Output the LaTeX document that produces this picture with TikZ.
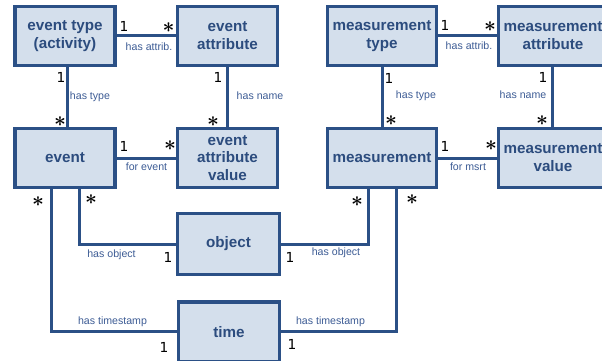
\documentclass[tikz,border=0pt]{standalone}
\usepackage{fontspec}
\setmainfont{Liberation Sans}
\newfontfamily\numfont{DejaVu Sans}
\usetikzlibrary{shadows}
\definecolor{boxfill}{HTML}{D4DFEC}
\definecolor{boxline}{HTML}{2B5086}
\definecolor{boxtext}{HTML}{2C4C7E}
\definecolor{lbltext}{HTML}{3D5C95}
\tikzset{
  ent/.style={draw=boxline, fill=boxfill, line width=3.3pt, minimum width=100pt, minimum height=58.5pt,
    inner sep=0pt, align=center, text=boxtext, font=\fontsize{15.2}{17.8}\selectfont\bfseries,
    drop shadow={shadow xshift=1.6pt, shadow yshift=-1.6pt, opacity=0.25, fill=black!60}},
  wide/.style={minimum width=108.6pt},
  conn/.style={draw=boxline, line width=3pt},
  lbl/.style={inner sep=0pt, text=lbltext, font=\fontsize{10.6}{12}\selectfont},
  one/.style={inner sep=0pt, text=black, font=\numfont\fontsize{13.8}{14}\selectfont},
  many/.style={inner sep=0pt, text=black, font=\fontsize{21}{21}\selectfont\boldmath}
}
\begin{document}
\begin{tikzpicture}[x=1pt,y=-1pt]
\useasboundingbox (0,0) rectangle (602,360);
\clip (0,0) rectangle (602,360);
\fill[white] (0,0) rectangle (602,360);
% boxes
\node[ent] (etype) at (65,36) {event type\\(activity)};
\node[ent] (eattr) at (227.5,36) {event\\attribute};
\node[ent] (event) at (65,158) {event};
\node[ent] (eav) at (227.5,158) {event\\attribute\\value};
\node[ent,wide] (mtype) at (382,36) {measurement\\type};
\node[ent,wide] (mattr) at (553,36) {measurement\\attribute};
\node[ent,wide] (meas) at (382,158) {measurement};
\node[ent,wide] (mval) at (553,158) {measurement\\value};
\node[ent,minimum width=101.6pt,minimum height=60.6pt] (object) at (228.5,244) {object};
\node[ent,minimum width=101.6pt,minimum height=60pt] (time) at (229,332) {time};
% helper x positions
\coordinate (xa) at (79,0);
\coordinate (xb) at (51,0);
\coordinate (xc) at (368,0);
\coordinate (xd) at (396,0);
\coordinate (xe) at (552,0);
\coordinate (xf) at (67,0);
% connectors
\draw[conn] (etype.east |- 0,35) -- (eattr.west |- 0,35);
\draw[conn] (etype.south -| xf) -- (event.north -| xf);
\draw[conn] (eattr.south) -- (eav.north);
\draw[conn] (event.east) -- (eav.west);
\draw[conn] (mtype.east |- 0,35) -- (mattr.west |- 0,35);
\draw[conn] (mtype.south) -- (meas.north);
\draw[conn] (mattr.south -| xe) -- (mval.north -| xe);
\draw[conn] (meas.east) -- (mval.west);
\draw[conn] (event.south -| xa) |- (object.west);
\draw[conn] (event.south -| xb) |- (time.west |- 0,331);
\draw[conn] (meas.south -| xc) |- (object.east);
\draw[conn] (meas.south -| xd) |- (time.east |- 0,331);
% labels
\node[lbl] (l1) at (149,47) {has attrib.};
\node[lbl] (l2) at (90,97) {has type};
\node[lbl] (l3) at (260,96) {has name};
\node[lbl] (l4) at (146.5,167) {for event};
\node[lbl] (l5) at (469,46) {has attrib.};
\node[lbl] (l6) at (416,96) {has type};
\node[lbl] (l7) at (523,95) {has name};
\node[lbl] (l8) at (468,167) {for msrt};
\node[lbl] (l9) at (111.5,255) {has object};
\node[lbl] (l10) at (336,253) {has object};
\node[lbl] (l11) at (112.5,322) {has timestamp};
\node[lbl] (l12) at (330.5,322) {has timestamp};
% multiplicities
\node[one] (m1) at (124,26) {1};
\node[many] (m2) at (168.5,28) {$\ast$};
\node[one] (m3) at (61,77) {1};
\node[many] (m4) at (60,122) {$\ast$};
\node[one] (m5) at (218,77) {1};
\node[many] (m6) at (213,122) {$\ast$};
\node[one] (m7) at (124,146) {1};
\node[many] (m8) at (170,146) {$\ast$};
\node[one] (m9) at (445,25) {1};
\node[many] (m10) at (490,27) {$\ast$};
\node[one] (m11) at (389,78) {1};
\node[many] (m12) at (391,121) {$\ast$};
\node[one] (m13) at (543,77) {1};
\node[many] (m14) at (542,121) {$\ast$};
\node[one] (m15) at (445,146) {1};
\node[many] (m16) at (491,146) {$\ast$};
\node[many] (m17) at (38,202) {$\ast$};
\node[many] (m18) at (91,200) {$\ast$};
\node[one] (m19) at (168,257) {1};
\node[one] (m20) at (290,257) {1};
\node[many] (m21) at (357,202) {$\ast$};
\node[many] (m22) at (412,200) {$\ast$};
\node[one] (m23) at (164,347) {1};
\node[one] (m24) at (292,344) {1};
\end{tikzpicture}
\end{document}
